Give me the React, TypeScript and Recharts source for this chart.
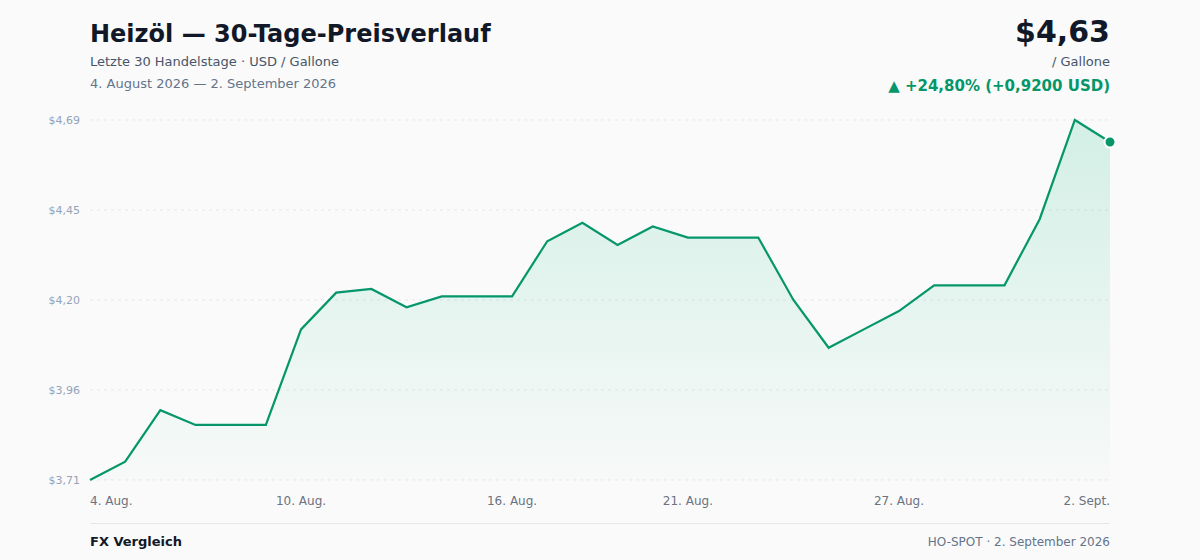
import React from 'react';
import { AreaChart, Area, XAxis, YAxis, CartesianGrid } from 'recharts';

const days = [
  '4. Aug.', '5. Aug.', '6. Aug.', '7. Aug.', '8. Aug.', '9. Aug.', '10. Aug.',
  '11. Aug.', '12. Aug.', '13. Aug.', '14. Aug.', '15. Aug.', '16. Aug.',
  '17. Aug.', '18. Aug.', '19. Aug.', '20. Aug.', '21. Aug.', '22. Aug.',
  '23. Aug.', '24. Aug.', '25. Aug.', '26. Aug.', '27. Aug.', '28. Aug.',
  '29. Aug.', '30. Aug.', '31. Aug.', '1. Sept.', '2. Sept.',
];

const prices = [
  3.71, 3.76, 3.9, 3.86, 3.86, 3.86, 4.12, 4.22, 4.23, 4.18,
  4.21, 4.21, 4.21, 4.36, 4.41, 4.35, 4.4, 4.37, 4.37, 4.37,
  4.2, 4.07, 4.12, 4.17, 4.24, 4.24, 4.24, 4.42, 4.69, 4.63,
];

const xTicks = ['4. Aug.', '10. Aug.', '16. Aug.', '21. Aug.', '27. Aug.', '2. Sept.'];
const yTicks = [3.71, 3.955, 4.2, 4.445, 4.69];
const yTickLabels = ['$3,71', '$3,96', '$4,20', '$4,45', '$4,69'];

const data = days.map((day, i) => ({ day, price: prices[i] }));

const GREEN = '#059669';
const FONT = '"DejaVu Sans", sans-serif';

const XTick = (props: any) => {
  const { x, y, payload, index } = props;
  let anchor: 'start' | 'middle' | 'end' = 'middle';
  if (index === 0) anchor = 'start';
  if (index === xTicks.length - 1) anchor = 'end';
  return (
    <text x={x} y={y} dy={17} textAnchor={anchor} fill="#6b7280" fontSize={12} fontFamily={FONT}>
      {payload.value}
    </text>
  );
};

const YTick = (props: any) => {
  const { x, y, payload } = props;
  return (
    <text x={x - 2} y={y} dy={4} textAnchor="end" fill="#94a3b8" fontSize={11} fontFamily={FONT}>
      {yTickLabels[yTicks.indexOf(payload.value)] ?? ''}
    </text>
  );
};

const LastDot = (props: any) => {
  const { cx, cy, index } = props;
  if (index !== prices.length - 1) return <g key={index} />;
  return <circle key={index} cx={cx} cy={cy} r={5.5} fill={GREEN} stroke="#fff" strokeWidth={2} />;
};

export default function App() {
  return (
    <div
      style={{
        position: 'absolute',
        left: 0,
        top: 0,
        width: 1200,
        height: 560,
        background: '#fafafa',
        fontFamily: FONT,
        overflow: 'hidden',
      }}
    >
      <div style={{ position: 'absolute', left: 90, top: 22, fontSize: 24, lineHeight: '24px', fontWeight: 700, color: '#111827' }}>
        Heizöl — 30-Tage-Preisverlauf
      </div>
      <div style={{ position: 'absolute', left: 90, top: 55, fontSize: 13, lineHeight: '13px', color: '#475569' }}>
        Letzte 30 Handelstage · USD / Gallone
      </div>
      <div style={{ position: 'absolute', left: 90, top: 77, fontSize: 13, lineHeight: '13px', color: '#64748b' }}>
        4. August 2026 — 2. September 2026
      </div>

      <div style={{ position: 'absolute', right: 90, top: 17, fontSize: 30, lineHeight: '30px', fontWeight: 700, color: '#111827', textAlign: 'right' }}>
        $4,63
      </div>
      <div style={{ position: 'absolute', right: 90, top: 55, fontSize: 13, lineHeight: '13px', color: '#475569', textAlign: 'right' }}>
        / Gallone
      </div>
      <div style={{ position: 'absolute', right: 90, top: 79, fontSize: 15, lineHeight: '15px', fontWeight: 700, color: GREEN, textAlign: 'right' }}>
        ▲ +24,80% (+0,9200 USD)
      </div>

      <div style={{ position: 'absolute', left: 0, top: 0 }}>
        <AreaChart width={1200} height={560} data={data} margin={{ top: 120, right: 90, left: 40, bottom: 50 }}>
          <defs>
            <linearGradient id="fillGreen" x1="0" y1="0" x2="0" y2="1">
              <stop offset="0%" stopColor="#10b981" stopOpacity={0.28} />
              <stop offset="100%" stopColor="#10b981" stopOpacity={0.02} />
            </linearGradient>
          </defs>
          <CartesianGrid vertical={false} stroke="#e5e7eb" strokeDasharray="3 4" />
          <XAxis
            dataKey="day"
            ticks={xTicks}
            interval={0}
            axisLine={false}
            tickLine={false}
            height={30}
            tick={<XTick />}
          />
          <YAxis
            domain={[3.71, 4.69]}
            ticks={yTicks}
            width={50}
            axisLine={false}
            tickLine={false}
            tick={<YTick />}
          />
          <Area
            type="linear"
            dataKey="price"
            stroke={GREEN}
            strokeWidth={2.2}
            fill="url(#fillGreen)"
            dot={LastDot}
            activeDot={false}
            isAnimationActive={false}
          />
        </AreaChart>
      </div>

      <div style={{ position: 'absolute', left: 90, top: 523, width: 1020, height: 1, background: '#e5e7eb' }} />
      <div style={{ position: 'absolute', left: 90, top: 535, fontSize: 13, lineHeight: '13px', fontWeight: 700, color: '#111827' }}>
        FX Vergleich
      </div>
      <div style={{ position: 'absolute', right: 90, top: 536, fontSize: 12, lineHeight: '12px', color: '#64748b' }}>
        HO-SPOT · 2. September 2026
      </div>
    </div>
  );
}
